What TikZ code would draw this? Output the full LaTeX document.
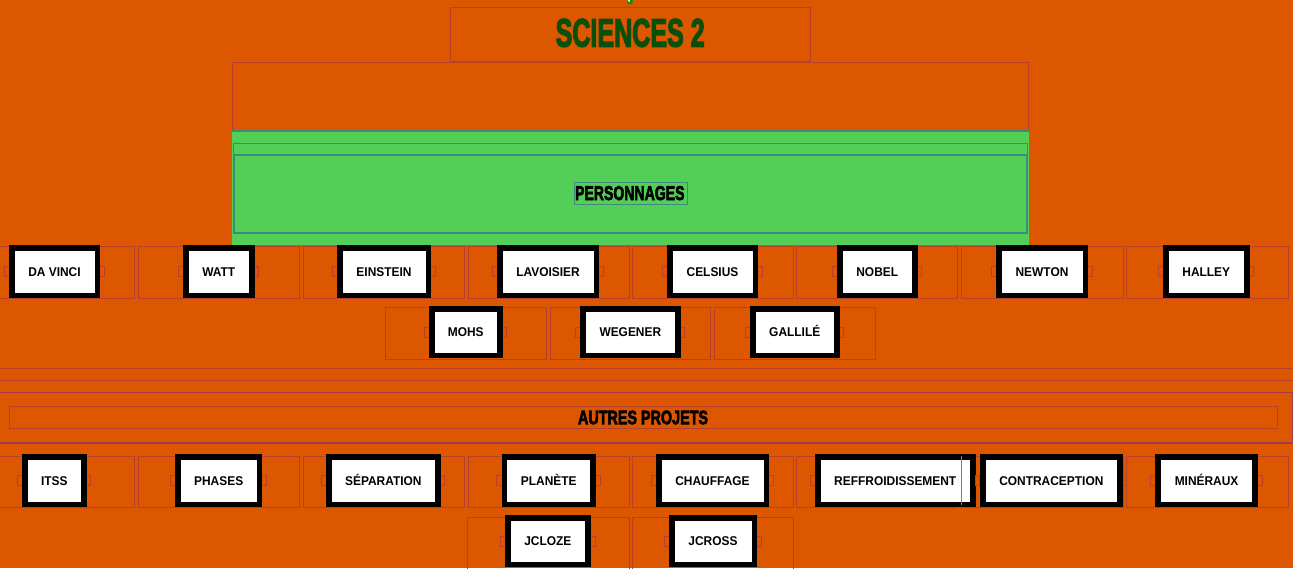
\documentclass[tikz,border=0pt]{standalone}
\usepackage{fontspec}
\usepackage{graphicx}
\newfontfamily\btnfont{Liberation Sans}[FakeStretch=0.94]
\newfontfamily\impactfont{Liberation Sans}[FakeBold=3.5]
\definecolor{bgc}{RGB}{221,86,0}
\definecolor{cellc}{RGB}{184,64,44}
\definecolor{greenc}{RGB}{83,207,87}
\definecolor{tealc}{RGB}{63,138,126}
\definecolor{titlec}{RGB}{10,79,10}
\definecolor{purplec}{RGB}{160,60,74}
\newcommand\mycell[4]{\draw[cell] (#1,#3) rectangle (#2,#4);}
\newcommand\mybtn[6]{%
  \draw[ph] (#2-5,{(#4+#5)/2-5}) rectangle (#2+5,{(#4+#5)/2+5});
  \draw[ph] (#3-5,{(#4+#5)/2-5}) rectangle (#3+4,{(#4+#5)/2+5});
  \node[btn, minimum width={#3-#2-5.5}, minimum height={#5-#4-5.5}] (#1) at ({(#2+#3)/2},{(#4+#5)/2}) {#6};}
\begin{document}
\begin{tikzpicture}[x=1pt,y=-1pt,
  cell/.style={draw=cellc, line width=0.8pt},
  ph/.style={draw=cellc, line width=0.6pt},
  btn/.style={draw=black, fill=white, line width=5.5pt, inner sep=0pt,
    font=\btnfont\bfseries\fontsize{12.7}{14}\selectfont, text height=9pt, text depth=0pt},
  heading/.style={inner sep=0pt}]
\useasboundingbox (0,0) rectangle (1293,568);
\fill[bgc] (0,0) rectangle (1293,568);
\clip (0,0) rectangle (1293,568);
% top icon
\fill[green!60!black] (630,1.5) circle (3pt);
\fill[white] (629,0.8) circle (1.2pt);
% title box
\draw[cell] (450.5,7.3) rectangle (810.5,61.7);
\draw[cellc, line width=2pt] (450.5,61.7) -- (810.5,61.7);
\node[heading, text=titlec] (title) at (630.2,32.9) {\resizebox{149pt}{27.7pt}{\impactfont\bfseries SCIENCES 2}};
% big box
\draw[cell] (232.3,62) rectangle (1028.5,131);
% green area
\fill[greenc] (232.3,131) rectangle (1028.5,245);
\draw[tealc, line width=1.2pt] (232.3,131) -- (1028.5,131);
\draw[tealc, line width=0.8pt] (233.3,143.3) rectangle (1027.3,233.5);
\draw[tealc, line width=1.8pt] (234.3,155) rectangle (1026.5,232.7);
\draw[tealc, line width=0.6pt] (574,182.3) rectangle (687,204);
\node[heading, text=black] (perso) at (629.8,193.1) {\resizebox{109.5pt}{14pt}{\impactfont\bfseries PERSONNAGES}};
% row 1 cells
\mycell{-27}{134}{246}{298}
\mycell{138}{299}{246}{298}
\mycell{303}{464}{246}{298}
\mycell{468}{629}{246}{298}
\mycell{632}{793}{246}{298}
\mycell{796.4}{957}{246}{298}
\mycell{961}{1123}{246}{298}
\mycell{1126}{1288}{246}{298}
% row 1 buttons
\mybtn{davinci}{9}{100}{245}{298}{DA VINCI}
\mybtn{watt}{183}{254.6}{245}{298}{WATT}
\mybtn{einstein}{337}{431}{245}{298}{EINSTEIN}
\mybtn{lavoisier}{497}{599}{245}{298}{LAVOISIER}
\mybtn{celsius}{667}{758}{245}{298}{CELSIUS}
\mybtn{nobel}{837}{917.5}{245}{298}{NOBEL}
\mybtn{newton}{996}{1088}{245}{298}{NEWTON}
\mybtn{halley}{1163}{1249.5}{245}{298}{HALLEY}
% row 2
\mycell{385.5}{546.5}{307}{359}
\mycell{550}{710.5}{307}{359}
\mycell{714.3}{875.6}{307}{359}
\mybtn{mohs}{429}{502.5}{306}{358}{MOHS}
\mybtn{wegener}{580}{680.7}{306}{358}{WEGENER}
\mybtn{gallile}{750}{839.5}{306}{358}{GALLILÉ}
% separators
\draw[cell] (0,368.3) -- (1293,368.3);
\draw[cell] (0,380.3) -- (1293,380.3);
% autres projets
\draw[purplec, line width=1pt] (-5,392.3) rectangle (1292,442.7);
\draw[purplec, line width=1.8pt] (-5,442.7) -- (1292,442.7);
\draw[cell] (9,406.3) rectangle (1277,428.3);
\node[heading, text=black] (autres) at (643,417.5) {\resizebox{130pt}{13.6pt}{\impactfont\bfseries AUTRES PROJETS}};
% row 3 cells
\mycell{-27}{134}{456}{507}
\mycell{138}{299}{456}{507}
\mycell{303}{464}{456}{507}
\mycell{468}{629}{456}{507}
\mycell{632}{793}{456}{507}
\mycell{796.4}{957}{456}{507}
\mycell{961}{1123}{456}{507}
\mycell{1126}{1288}{456}{507}
\mybtn{itss}{22}{86.6}{454}{507}{ITSS}
\mybtn{phases}{175}{262.4}{454}{507}{PHASES}
\mybtn{separation}{326}{440.7}{454}{507}{SÉPARATION}
\mybtn{planete}{501.7}{595.8}{454}{507}{PLANÈTE}
\mybtn{chauffage}{656}{769}{454}{507}{CHAUFFAGE}
\mybtn{refroid}{815}{975.5}{454}{507}{REFFROIDISSEMENT}
\mybtn{contraception}{980}{1122.7}{454}{507}{CONTRACEPTION}
\mybtn{mineraux}{1155.4}{1257.8}{454}{507}{MINÉRAUX}
\draw[color={rgb,255:red,120;green,120;blue,185}, line width=0.6pt] (961.3,456) -- (961.3,505);
% row 4
\mycell{467.7}{629}{517}{590}
\mycell{632}{793.5}{517}{590}
\mybtn{jcloze}{505}{590.8}{515}{567}{JCLOZE}
\mybtn{jcross}{669}{757}{515}{567}{JCROSS}
\end{tikzpicture}
\end{document}
